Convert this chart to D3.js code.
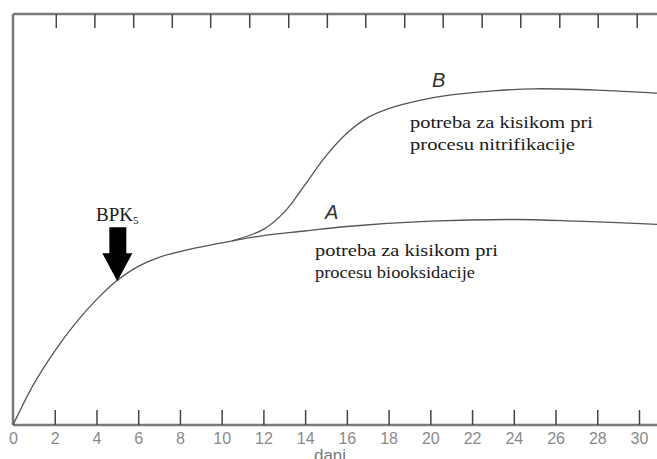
<!DOCTYPE html>
<html>
<head>
<meta charset="utf-8">
<script src="https://cdn.jsdelivr.net/npm/d3@7"></script>
<style>
  body { margin: 0; background: #fff; }
  svg { display: block; }
</style>
</head>
<body>
<div id="graph"></div>
<script>
// curve A follows the whole range, B branches off A after day 10
const daysA = [0, 1, 2, 3, 4, 5, 6, 7, 8.5, 10.5, 12, 14, 16, 20, 24, 27, 31];
const valuesA = [0, 10, 18, 24.8, 30.5, 35.2, 38.6, 40.8, 42.8, 44.8, 46.1, 47.2, 48.3, 49.6, 50, 49.6, 48.8];
const daysB = [10.5, 12, 13, 14, 15, 16, 17, 18, 19.5, 21, 23, 25, 28, 31];
const valuesB = [44.8, 47.6, 51.8, 58.5, 65.5, 71, 74.8, 77, 79, 80.3, 81.3, 81.8, 81.5, 80.7];
const bottomTicks = [0, 2, 4, 6, 8, 10, 12, 14, 16, 18, 20, 22, 24, 26, 28, 30];
const topTicks = [2.05, 3.9, 5.76, 7.61, 9.45, 11.32, 13.19, 15.04, 16.88, 18.75, 20.59, 22.46, 24.31, 26.18, 28.02, 29.89];
const bpkIndex = 5; // BPK5 sits on day 5 of curve A

const svgWidth = 657;
const svgHeight = 459;

const svg = d3.select('#graph')
  .append('svg')
  .attr('width', svgWidth)
  .attr('height', svgHeight);

const x = d3.scaleLinear().domain([0, 30]).range([13, 639]);
const y = d3.scaleLinear().domain([0, 100]).range([425, 14]);

// frame lines
const frame = svg.append('g').attr('stroke', '#7a7a7a').attr('stroke-width', 2.5);
frame.append('line').attr('x1', x(0)).attr('x2', svgWidth).attr('y1', y(0)).attr('y2', y(0));
frame.append('line').attr('x1', x(0)).attr('x2', svgWidth).attr('y1', y(100)).attr('y2', y(100));
frame.append('line').attr('x1', x(0)).attr('x2', x(0)).attr('y1', y(100)).attr('y2', y(0));

// bottom axis, ticks pointing up
const bottomAxis = svg.append('g')
  .attr('transform', `translate(0, ${y(0)})`)
  .call(d3.axisBottom(x).tickValues(bottomTicks).tickSizeInner(-15).tickSizeOuter(0).tickPadding(8));
bottomAxis.select('.domain').remove();
bottomAxis.selectAll('.tick line').attr('stroke', '#444').attr('stroke-width', 1.5);
bottomAxis.selectAll('.tick text')
  .attr('fill', '#8a8a8a')
  .style('font-family', 'Liberation Sans, Arial, sans-serif')
  .style('font-size', '16px');
bottomAxis.selectAll('.tick').filter(d => d === 0).select('line').remove();

// top axis, ticks pointing down, no labels
const topAxis = svg.append('g')
  .attr('transform', `translate(0, ${y(100)})`)
  .call(d3.axisTop(x).tickValues(topTicks).tickSizeInner(-14).tickSizeOuter(0).tickFormat(''));
topAxis.select('.domain').remove();
topAxis.selectAll('.tick line').attr('stroke', '#444').attr('stroke-width', 1.5);

// x label, partly cut by the bottom edge as in the source
svg.append('text')
  .attr('x', 330)
  .attr('y', 461)
  .attr('text-anchor', 'middle')
  .attr('fill', '#777')
  .style('font-family', 'Liberation Sans, Arial, sans-serif')
  .style('font-size', '17px')
  .text('dani');

const line = d3.line()
  .x(d => x(d[0]))
  .y(d => y(d[1]))
  .curve(d3.curveCatmullRom);

svg.append('path')
  .attr('d', line(d3.zip(daysA, valuesA)))
  .attr('fill', 'none')
  .attr('stroke', '#555')
  .attr('stroke-width', 1.3);

svg.append('path')
  .attr('d', line(d3.zip(daysB, valuesB)))
  .attr('fill', 'none')
  .attr('stroke', '#555')
  .attr('stroke-width', 1.3);

// BPK5 arrow, tip on curve A
const tipX = x(daysA[bpkIndex]);
const tipY = y(valuesA[bpkIndex]) + 1;
svg.append('path')
  .attr('d', `M${tipX},${tipY} L${tipX - 15},${tipY - 28} L${tipX - 8},${tipY - 28} L${tipX - 8},${tipY - 54} L${tipX + 9},${tipY - 54} L${tipX + 9},${tipY - 28} L${tipX + 15},${tipY - 28} Z`)
  .attr('fill', '#000');

const bpk = svg.append('text')
  .attr('x', tipX)
  .attr('y', tipY - 60)
  .attr('text-anchor', 'middle')
  .attr('fill', '#1a1a1a')
  .style('font-family', 'Liberation Serif, Times New Roman, serif')
  .style('font-size', '19px');
bpk.append('tspan').text('BPK');
bpk.append('tspan').attr('font-size', '11px').attr('dy', 3).text('5');

// curve labels
const letter = (t, px, py) => svg.append('text')
  .attr('x', px).attr('y', py)
  .attr('fill', '#333')
  .style('font-family', 'Liberation Sans, Arial, sans-serif')
  .style('font-style', 'italic')
  .style('font-size', '20px')
  .text(t);
letter('B', 432, 87);
letter('A', 325, 219);

const note = (lines, px, py, widths) => {
  lines.forEach((t, i) => {
    svg.append('text')
      .attr('x', px).attr('y', py + i * 22)
      .attr('fill', '#1a1a1a')
      .attr('textLength', widths[i])
      .attr('lengthAdjust', 'spacingAndGlyphs')
      .style('font-family', 'Liberation Serif, Times New Roman, serif')
      .style('font-size', '17px')
      .text(t);
  });
};
note(['potreba za kisikom pri', 'procesu nitrifikacije'], 410, 128, [183, 165]);
note(['potreba za kisikom pri', 'procesu biooksidacije'], 315, 256, [183, 160]);
</script>
</body>
</html>
